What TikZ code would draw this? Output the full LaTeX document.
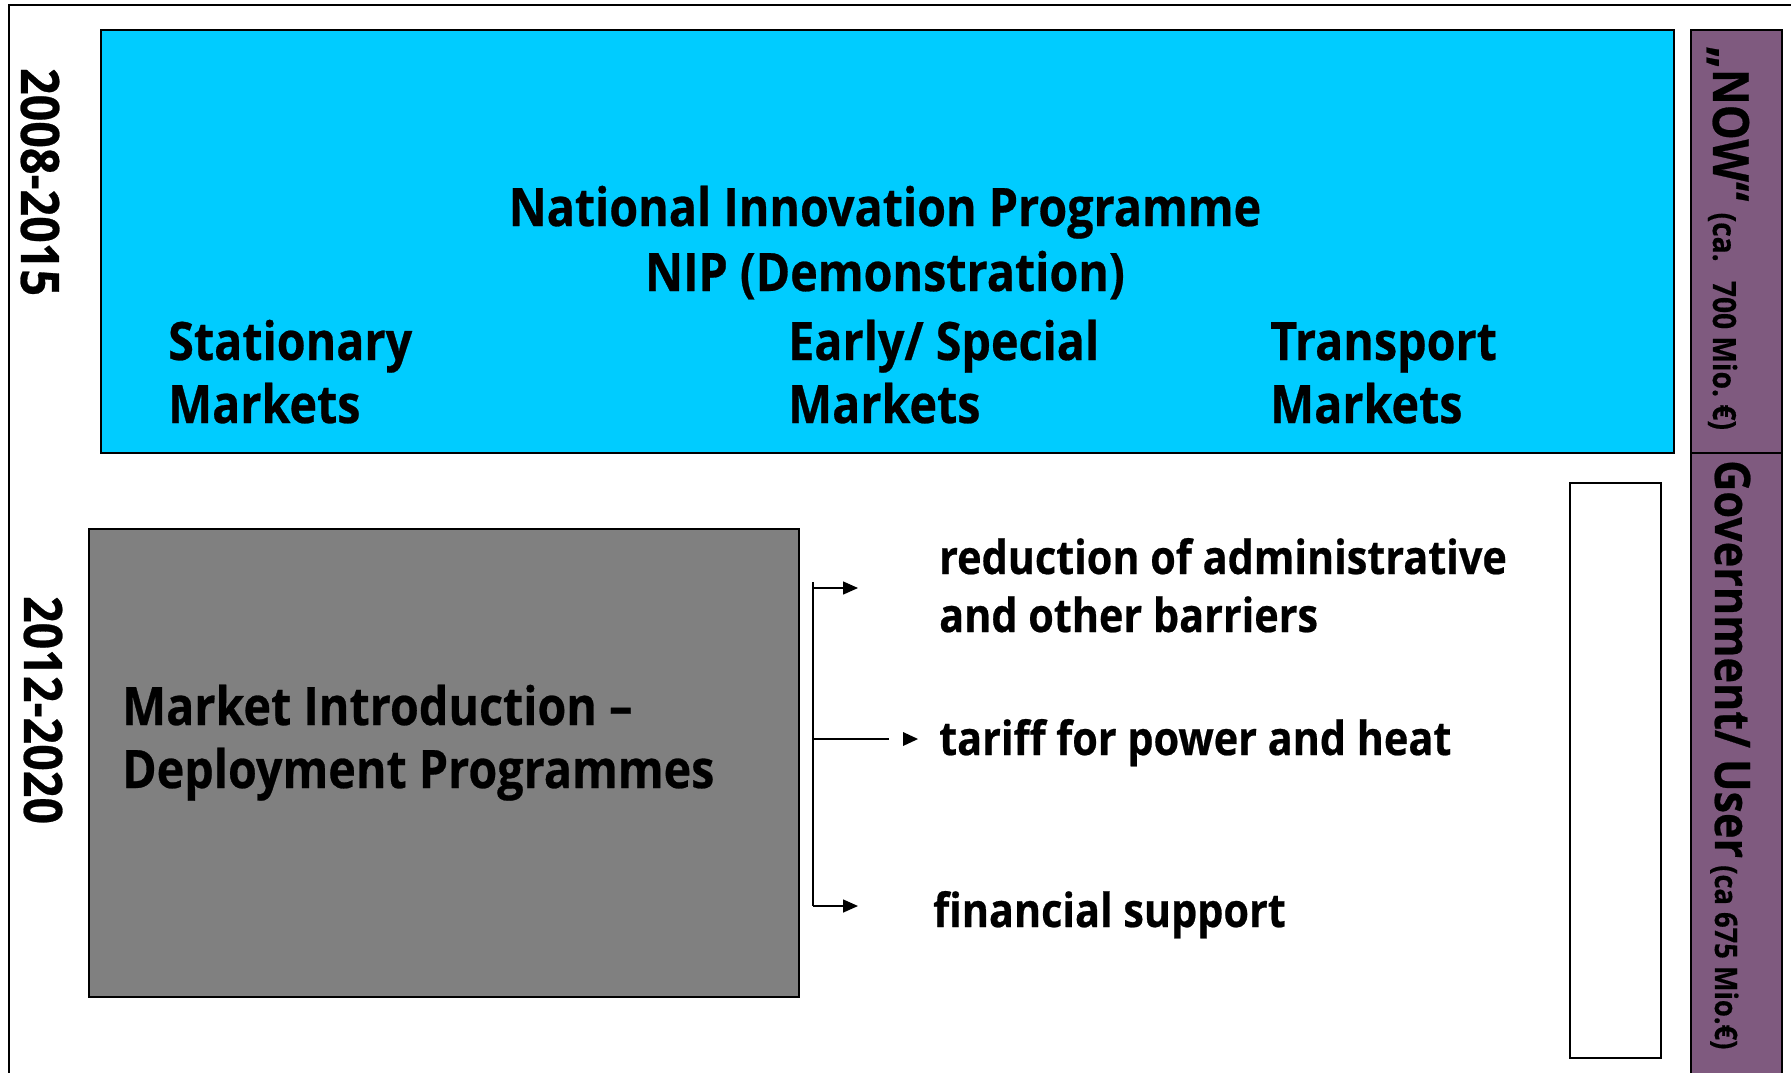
\documentclass[tikz,border=0pt]{standalone}
\usepackage{fontspec}
\setmainfont{Open Sans}[FakeStretch=0.88, BoldFeatures={FakeBold=0.5}]
\usetikzlibrary{arrows.meta}
\definecolor{nipcyan}{RGB}{0,204,255}
\definecolor{mipgrey}{RGB}{128,128,128}
\definecolor{nowpurple}{RGB}{127,90,127}
\begin{document}
\begin{tikzpicture}[x=1pt,y=-1pt,
  box/.style={draw=black, line width=1.5pt, inner sep=0pt, anchor=north west},
  big/.style={font=\fontsize{53}{63}\selectfont\bfseries, inner sep=0pt, anchor=base west},
  bigc/.style={big, anchor=base},
  meas/.style={font=\fontsize{47}{58}\selectfont\bfseries, inner sep=0pt, anchor=base west},
  year/.style={font=\fontsize{53}{60}\selectfont\bfseries, inner sep=0pt, rotate=-90, anchor=center},
  side/.style={font=\bfseries, inner sep=0pt, rotate=-90, anchor=base west},
  conn/.style={line width=1.5pt},
  arr/.style={conn, -{Triangle[length=15pt,width=13pt]}}]
\useasboundingbox (0,0) rectangle (1791,1072);
% outer frame
\coordinate (fbl) at (9,1075);
\coordinate (ftl) at (9,5);
\coordinate (ftr) at (1795,5);
\draw[line width=1.5pt] (fbl) -- (ftl) -- (ftr);
% boxes
\node[box, fill=nipcyan, minimum width=1573pt, minimum height=423pt] (nip) at (100,29) {};
\node[box, fill=mipgrey, minimum width=710pt, minimum height=468pt] (mip) at (88,528) {};
\node[box, fill=white, minimum width=91pt, minimum height=575pt] (wbox) at (1569,482) {};
\node[box, fill=nowpurple, minimum width=91pt, minimum height=423pt] (now) at (1690,29) {};
\node[box, fill=nowpurple, minimum width=91pt, minimum height=630pt] (gov) at (1690,452) {};
% year labels
\node[year] (y1) at (40,182) {2008-2015};
\node[year] (y2) at (43,710) {2012-2020};
% NIP texts
\node[bigc] (t1) at (885,226) {National Innovation Programme};
\node[bigc] (t2) at (885,291) {NIP (Demonstration)};
\node[big] (s1) at (168,360) {Stationary};
\node[big] (s2) at (168,423) {Markets};
\node[big] (e1) at (788,360) {Early/ Special};
\node[big] (e2) at (788,423) {Markets};
\node[big] (r1) at (1270,360) {Transport};
\node[big] (r2) at (1270,423) {Markets};
% market introduction
\node[big] (m1) at (122,725) {Market Introduction –};
\node[big] (m2) at (122,788) {Deployment Programmes};
% measures
\node[meas] (a1) at (939,574) {reduction of administrative};
\node[meas] (a2) at (939,632) {and other barriers};
\node[meas] (b1) at (939,755) {tariff for power and heat};
\node[meas] (c1) at (933,927) {financial support};
% side labels
\node[side] (nowt) at (1713,46) {\fontsize{50}{60}\selectfont „NOW“\fontsize{32}{36}\selectfont\hspace{0.35em}(ca.\hspace{0.6em}700 Mio.\ €)};
\node[side] (govt) at (1715,460) {\fontsize{49}{60}\selectfont Government/ User\fontsize{31}{36}\selectfont\ (ca 675 Mio.€)};
% bracket connectors
\coordinate (brT) at (813,582);
\coordinate (brB) at (813,906);
\coordinate (brA) at (813,588);
\coordinate (brM) at (813,739);
\coordinate (tipA) at (858,588);
\coordinate (endM) at (889,739);
\coordinate (tipM) at (918,739);
\coordinate (tipC) at (858,906);
\draw[conn] (brT) -- (brB);
\draw[arr] (brA) -- (tipA);
\draw[conn] (brM) -- (endM);
\fill[shift={(tipM)}] (-15,-7) -- (0,0) -- (-15,7) -- cycle;
\draw[arr] (brB) -- (tipC);
\end{tikzpicture}
\end{document}
